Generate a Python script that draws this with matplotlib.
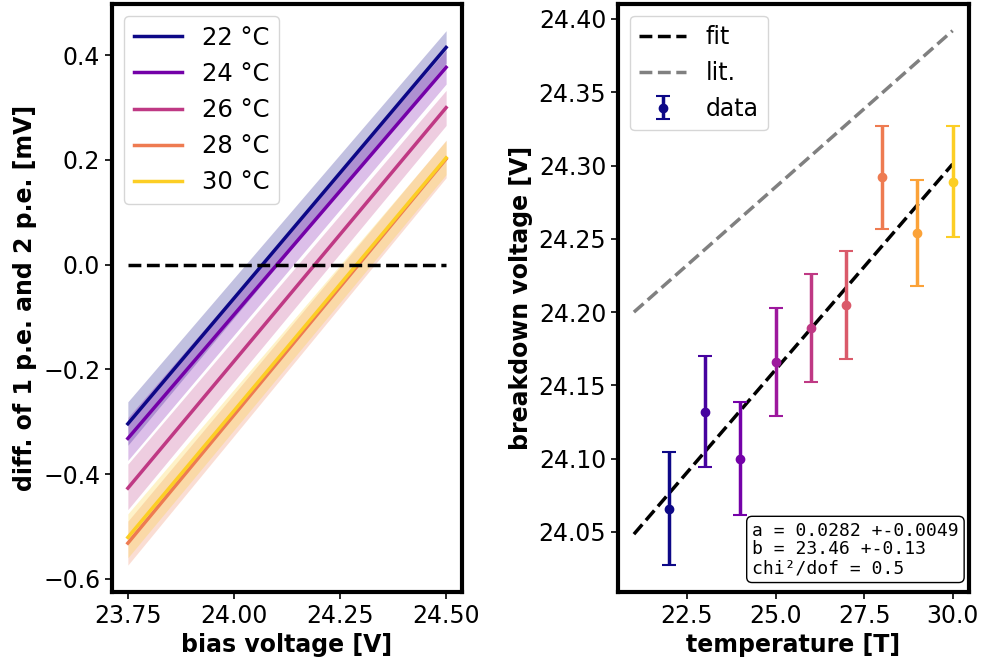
import numpy as np
import matplotlib
matplotlib.use('Agg')
from matplotlib import pyplot as plt

# left panel: difference of 1 p.e. and 2 p.e. vs bias voltage
bias = [23.75, 24.50]
temps_left = ['22 °C', '24 °C', '26 °C', '28 °C', '30 °C']
diff_lines = [[-0.304, 0.415], [-0.332, 0.377], [-0.427, 0.300], [-0.532, 0.202], [-0.521, 0.204]]
diff_lo = [[-0.345, 0.385], [-0.374, 0.345], [-0.468, 0.266], [-0.574, 0.166], [-0.560, 0.172]]
diff_hi = [[-0.262, 0.447], [-0.292, 0.410], [-0.381, 0.333], [-0.490, 0.238], [-0.476, 0.237]]

# right panel: breakdown voltage vs temperature
temperature = [22, 23, 24, 25, 26, 27, 28, 29, 30]
breakdown = [24.066, 24.132, 24.100, 24.166, 24.189, 24.205, 24.292, 24.254, 24.289]
breakdown_err = [0.0386, 0.038, 0.0387, 0.037, 0.037, 0.037, 0.035, 0.036, 0.038]
fit_x = [21, 30]
fit_y = [24.0485, 24.301]
lit_y = [24.200, 24.392]

plt.rcParams['font.size'] = 17

fig = plt.figure(figsize=(9.82, 6.62), dpi=100)
ax1 = fig.add_axes([0.114, 0.106, 0.3565, 0.888])
ax2 = fig.add_axes([0.6293, 0.106, 0.357, 0.888])

cols_left = plt.cm.plasma(np.linspace(0, 0.9, len(temps_left)))
for lab, y, lo, hi, c in zip(temps_left, diff_lines, diff_lo, diff_hi, cols_left):
    ax1.fill_between(bias, lo, hi, color=c, alpha=0.25, lw=0)
    ax1.plot(bias, y, color=c, lw=2.5, label=lab)
ax1.plot(bias, [0, 0], 'k--', lw=2.5)
ax1.set_xticks([23.75, 24.0, 24.25, 24.5])
ax1.set_xlabel('bias voltage [V]', fontweight='bold')
ax1.set_ylabel('diff. of 1 p.e. and 2 p.e. [mV]', fontweight='bold')
ax1.legend(loc='upper left', fontsize=17.5)

cols_right = plt.cm.plasma(np.linspace(0, 0.9, len(temperature)))
ax2.plot(fit_x, fit_y, 'k--', lw=2.5, label='fit')
ax2.plot(fit_x, lit_y, '--', color='grey', lw=2.5, label='lit.')
for i, (t, v, e, c) in enumerate(zip(temperature, breakdown, breakdown_err, cols_right)):
    ax2.errorbar(t, v, yerr=e, fmt='o', color=c, elinewidth=2.5, capsize=5, capthick=1.5,
                 label='data' if i == 0 else None)
ax2.set_xticks([22.5, 25.0, 27.5, 30.0])
ax2.set_xlabel('temperature [T]', fontweight='bold')
ax2.set_ylabel('breakdown voltage [V]', fontweight='bold')
ax2.legend(loc='upper left')
ax2.text(0.972, 0.025, 'a = 0.0282 +-0.0049\nb = 23.46 +-0.13\nchi²/dof = 0.5',
         transform=ax2.transAxes, ha='right', va='bottom', multialignment='left',
         family='DejaVu Sans Mono', fontsize=13, linespacing=1.05,
         bbox=dict(boxstyle='round,pad=0.3', facecolor='white', edgecolor='black'))

for ax in (ax1, ax2):
    for s in ax.spines.values():
        s.set_linewidth(3)
    ax.tick_params(labelsize=17, width=1.2, length=5)

fig.savefig('out.png', dpi=100)
